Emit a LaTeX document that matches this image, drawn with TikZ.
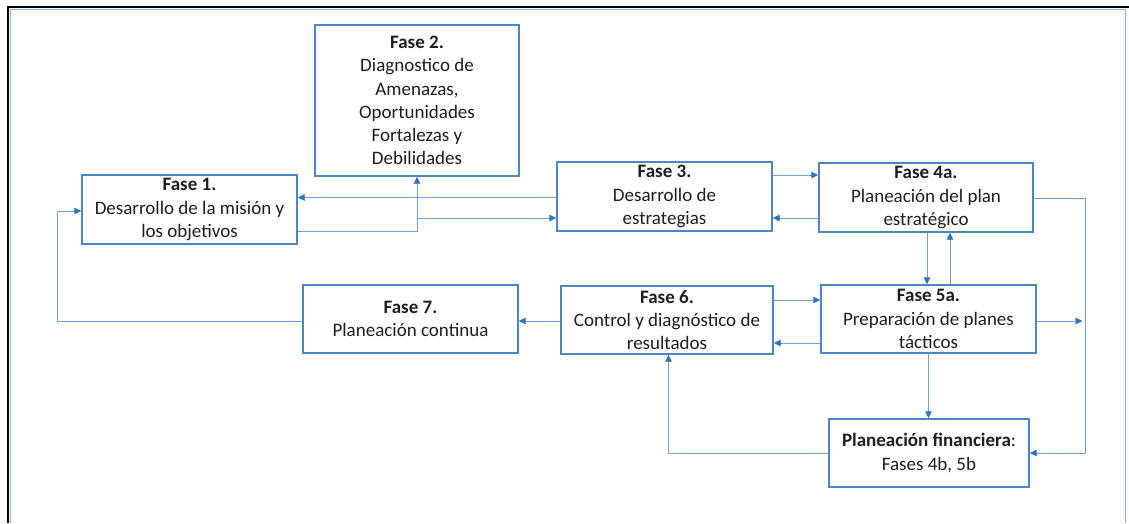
\documentclass[tikz,border=0pt]{standalone}
\usepackage{fontspec}
\setmainfont{Carlito}
\usetikzlibrary{arrows.meta}
\definecolor{boxblue}{HTML}{4A86C8}
\definecolor{connblue}{HTML}{6FA0D6}
\definecolor{arrowblue}{HTML}{2F72BD}
\definecolor{frameblue}{HTML}{8DB3E2}
\definecolor{txt}{HTML}{1E1E1E}
\tikzset{
  box/.style={draw=boxblue, line width=1.4pt, fill=white, rectangle, inner sep=0pt, align=center,
    text=txt, font=\fontsize{19}{23.3}\selectfont},
  conn/.style={draw=connblue, line width=0.9pt, -{Triangle[length=7pt,width=6.5pt,color=arrowblue]}},
  plainconn/.style={draw=connblue, line width=0.9pt}
}
\begin{document}
\begin{tikzpicture}[x=1pt,y=-1pt]
\useasboundingbox (0,0) rectangle (1129,523);
% frame
\draw[black, line width=2.5pt] (8,523) -- (8,7) -- (1129,7);
\draw[frameblue, line width=1pt] (10.5,523) -- (10.5,9.5) -- (1125,9.5) -- (1125,523);

% boxes
\node[box, minimum width=215pt, minimum height=69pt] (f1) at (189.5,209.5) {\textbf{Fase 1.}\\Desarrollo de la misión y\\los objetivos};
\node[box, minimum width=204pt, minimum height=151pt] (f2) at (417,100.5) {\textbf{Fase 2.}\\Diagnostico de\\Amenazas,\\Oportunidades\\Fortalezas y\\Debilidades};
\node[box, minimum width=215pt, minimum height=69pt] (f3) at (664.5,196.5) {\textbf{Fase 3.}\\Desarrollo de\\estrategias};
\node[box, minimum width=214pt, minimum height=69pt] (f4) at (926,197.5) {\textbf{Fase 4a.}\\Planeación del plan\\estratégico};
\node[box, minimum width=215pt, minimum height=68pt] (f7) at (410.5,319) {\textbf{Fase 7.}\\Planeación continua};
\node[box, minimum width=212pt, minimum height=68pt] (f6) at (667,320) {\textbf{Fase 6.}\\Control y diagnóstico de\\resultados};
\node[box, minimum width=215pt, minimum height=68pt] (f5) at (928.5,319) {\textbf{Fase 5a.}\\Preparación de planes\\tácticos};
\node[box, minimum width=200pt, minimum height=68pt] (fin) at (929,453) {\textbf{Planeación financiera}:\\Fases 4b, 5b};

% helper levels
\coordinate (hA) at (0,197.5);
\coordinate (hB) at (0,231);
\coordinate (hC) at (0,218);
\coordinate (hD) at (0,175);
\coordinate (hE) at (0,198.5);
\coordinate (hF) at (0,300);
\coordinate (hG) at (0,343);
\coordinate (hH) at (0,321);
\coordinate (hI) at (0,453);
\coordinate (hJ) at (0,211);
\coordinate (vA) at (417,0);
\coordinate (vB) at (1085,0);
\coordinate (vC) at (927,0);
\coordinate (vD) at (950,0);
\coordinate (vE) at (928.5,0);
\coordinate (vF) at (668.5,0);
\coordinate (vG) at (57,0);
\coordinate (j1) at (vA |- hC);
\coordinate (tip) at (1082.5,321);

% connectors
\draw[conn] (f3.west |- hA) -- (f1.east |- hA);
\draw[conn] (f1.east |- hB) -| (f2.south -| vA);
\draw[conn] (j1) -- (f3.west |- hC);
\draw[conn] (f3.east |- hD) -- (f4.west |- hD);
\draw[conn] (f4.west |- hC) -- (f3.east |- hC);
\draw[conn] (f4.east |- hE) -| (vB |- hI) -- (fin.east |- hI);
\draw[conn] (f4.south -| vC) -- (f5.north -| vC);
\draw[conn] (f5.north -| vD) -- (f4.south -| vD);
\draw[conn] (f5.east |- hH) -- (tip);
\draw[conn] (f6.east |- hF) -- (f5.west |- hF);
\draw[conn] (f5.west |- hG) -- (f6.east |- hG);
\draw[conn] (f5.south -| vE) -- (fin.north -| vE);
\draw[conn] (fin.west |- hI) -| (f6.south -| vF);
\draw[conn] (f6.west |- hH) -- (f7.east |- hH);
\draw[conn] (f7.west |- hH) -| (vG |- hJ) -- (f1.west |- hJ);
\end{tikzpicture}
\end{document}
